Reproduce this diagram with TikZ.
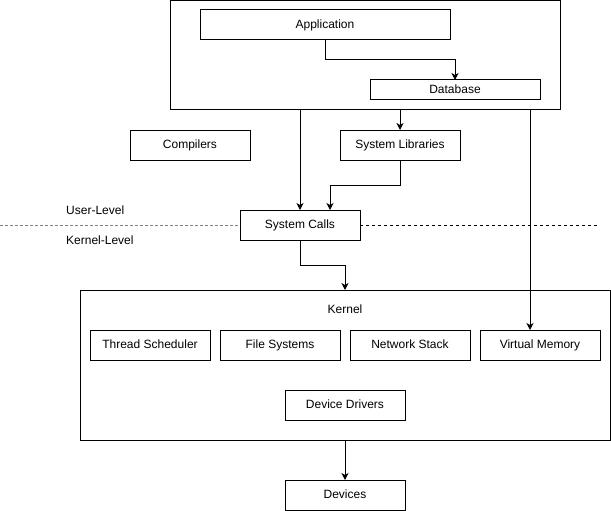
\documentclass[tikz,border=0pt]{standalone}
\usepackage{fontspec}
\setmainfont{Liberation Sans}
\usetikzlibrary{arrows.meta,positioning}
\tikzset{basic/.style={draw,line width=1pt,inner sep=0pt,outer sep=0pt,font=\fontsize{12}{14}\selectfont,text height=8.6pt,text depth=2.5pt}}
\tikzset{block/.style={basic,rectangle,minimum width=120pt,minimum height=30pt}}
\tikzset{group/.style={basic,rectangle}}
\tikzset{arrow/.style={draw,line width=1pt,-{Stealth[length=7pt,width=7pt,inset=2pt]}}}
\tikzset{level/.style={anchor=west,inner sep=0pt,font=\fontsize{12}{14}\selectfont}}
\tikzset{boundary/.style={draw,line width=1pt,dashed}}

\begin{document}
\begin{tikzpicture}[x=1pt,y=-1pt,node distance=10pt]
    \useasboundingbox (0,0) rectangle (611,511);

    % user level
    \node[group,minimum width=390pt,minimum height=109pt] (user) at (365,55.5) {};
    \node[block,minimum width=250pt] (app) at (325,25) {Application};
    \node[block,minimum width=170pt,minimum height=20pt] (db) at (455,90) {Database};
    \node[block] (comp) at (190,145) {Compilers};
    \node[block,right=90pt of comp] (syslib) {System Libraries};
    \node[block] (syscalls) at (300,225) {System Calls};

    \node[level] (ulvl) at (66,210) {User-Level};
    \node[level] (klvl) at (66,240) {Kernel-Level};
    \coordinate (lend) at (0,225);
    \coordinate (rend) at (598,225);

    % kernel level
    \node[group,minimum width=530pt,minimum height=150pt] (kernel) at (345,365) {};
    \node[basic,draw=none] (klabel) at (345,310) {Kernel};
    \node[block] (ts) at (150,345) {Thread Scheduler};
    \node[block,right=of ts] (fs) {File Systems};
    \node[block,right=of fs] (ns) {Network Stack};
    \node[block,right=of ns] (vm) {Virtual Memory};
    \node[block] (dd) at (345,405) {Device Drivers};
    \node[block] (dev) at (345,495) {Devices};
    \coordinate (vmin) at ([xshift=-10pt]vm.north);

        \path[boundary,draw=gray,dash pattern=on 3pt off 2pt] (lend) -- (syscalls.west);
        \path[boundary,dash pattern=on 3pt off 3pt] (syscalls.east) -- (rend);

        \path[arrow] (app.south) -- ++(0,20) -| (db.north);
        \path[arrow] (syslib.north |- user.south) -- (syslib.north);
        \path[arrow] (syscalls.north |- user.south) -- (syscalls.north);
        \path[arrow] (syslib.south) -- ++(0,25) -| ([xshift=30pt]syscalls.north);
        \path[arrow] (vmin |- user.south) -- (vmin);
        \path[arrow] (syscalls.south) -- ++(0,25) -| (kernel.north);
        \path[arrow] (kernel.south) -- (dev.north);
  \end{tikzpicture}
\end{document}
